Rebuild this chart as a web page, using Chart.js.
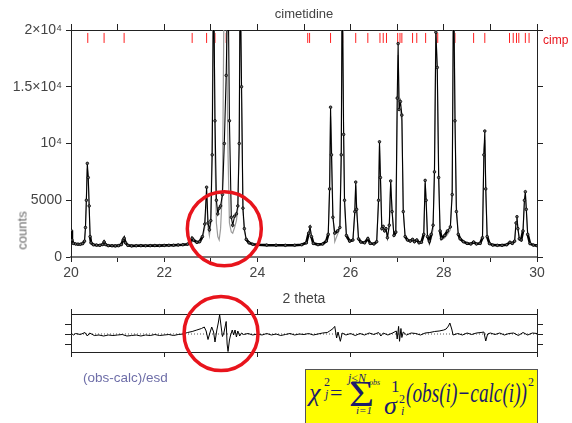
<!DOCTYPE html>
<html>
<head>
<meta charset="utf-8">
<script src="https://cdn.jsdelivr.net/npm/chart.js@4.4.1/dist/chart.umd.min.js"></script>
<style>
  body { margin: 0; background: #fff; }
  #page { position: relative; width: 572px; height: 423px; overflow: hidden; font-family: "Liberation Sans", Arial, sans-serif; }
  canvas { position: absolute; left: 0; }
  .lbl { position: absolute; white-space: nowrap; line-height: 1; font-weight: normal; }
  #formula { position: absolute; left: 305px; top: 369px; width: 231px; height: 58px; background: #ffff00; border: 1px solid #555; }
  #formula svg { position: absolute; left: 0; top: 0; }
  #formula text { fill: #1c1c6b; font-family: "Liberation Serif", "Times New Roman", serif; }
</style>
</head>
<body>
<div id="page">
  <canvas id="mainChart" width="572" height="310" style="top:0"></canvas>
  <canvas id="diffChart" width="572" height="90" style="top:290px"></canvas>
  <div class="lbl" style="left:2px; top:224px; width:40px; text-align:center; font-size:13px; color:#666; transform:rotate(-90deg);">counts</div>
  <div class="lbl" style="left:543px; top:34px; font-size:12px; color:#e8141c;">cimp</div>
  <div class="lbl" style="left:83px; top:371px; font-size:13.5px; color:#6e6ea8;">(obs-calc)/esd</div>
  <div id="formula"></div>
</div>
<script>
// observed / calculated profile (2theta, counts)
const twoTheta = [
  20.00, 20.02, 20.05, 20.10, 20.15, 20.20, 20.25, 20.29, 20.31, 20.33, 20.35, 20.37, 20.39, 20.41, 20.43, 20.48,
  20.55, 20.62, 20.68, 20.71, 20.74, 20.80, 20.88, 20.95, 21.02, 21.08, 21.12, 21.14, 21.17, 21.22, 21.30, 21.40,
  21.50, 21.60, 21.70, 21.80, 21.90, 22.00, 22.10, 22.20, 22.30, 22.40, 22.50, 22.57, 22.60, 22.63, 22.70, 22.76,
  22.82, 22.87, 22.91, 22.94, 22.97, 23.00, 23.03, 23.06, 23.09, 23.12, 23.15, 23.18, 23.21, 23.25, 23.29, 23.33,
  23.37, 23.40, 23.44, 23.47, 23.51, 23.55, 23.58, 23.61, 23.63, 23.66, 23.69, 23.72, 23.76, 23.82, 23.90, 24.00,
  24.20, 24.40, 24.60, 24.80, 24.95, 25.05, 25.10, 25.13, 25.16, 25.20, 25.30, 25.40, 25.48, 25.52, 25.55, 25.57,
  25.59, 25.62, 25.66, 25.72, 25.77, 25.80, 25.82, 25.85, 25.87, 25.91, 25.98, 26.05, 26.09, 26.11, 26.13, 26.17,
  26.22, 26.30, 26.37, 26.42, 26.50, 26.56, 26.60, 26.62, 26.64, 26.67, 26.70, 26.73, 26.76, 26.79, 26.83, 26.86,
  26.89, 26.93, 26.97, 27.00, 27.02, 27.04, 27.07, 27.10, 27.13, 27.17, 27.22, 27.28, 27.33, 27.37, 27.42, 27.47,
  27.52, 27.57, 27.60, 27.62, 27.65, 27.69, 27.73, 27.77, 27.80, 27.83, 27.86, 27.89, 27.92, 27.95, 28.02, 28.08,
  28.14, 28.18, 28.21, 28.24, 28.27, 28.31, 28.35, 28.42, 28.50, 28.58, 28.64, 28.70, 28.78, 28.83, 28.86, 28.88,
  28.90, 28.93, 28.98, 29.05, 29.15, 29.25, 29.35, 29.42, 29.47, 29.52, 29.55, 29.57, 29.59, 29.62, 29.66, 29.70,
  29.73, 29.75, 29.77, 29.80, 29.85, 29.92, 30.00
];
const obsCounts = [
  2350, 1500, 1200, 1150, 1130, 1120, 1180, 1400, 2600, 5000, 8250, 7000, 4500, 1800, 1250, 1080,
  1050, 1030, 1100, 1330, 1100, 1000, 990, 980, 1000, 1100, 1500, 1650, 1250, 1030, 980, 990,
  1000, 990, 1000, 1010, 1000, 1020, 1030, 1040, 1060, 1080, 1130, 1350, 1650, 1500, 1300, 1350,
  1800, 2900, 6150, 3000, 2400, 3200, 9000, 25000, 12000, 5000, 3800, 4300, 4500, 5500, 10000, 16000,
  25000, 12000, 3500, 2800, 3600, 3800, 4500, 10000, 25000, 15000, 4300, 2500, 1550, 1250, 1120, 1080,
  1050, 1040, 1030, 1040, 1080, 1250, 2100, 2650, 1800, 1200, 1090, 1150, 1400, 2000, 6000, 13200,
  9000, 3500, 2100, 2300, 2600, 9000, 25000, 10800, 5000, 1900, 1400, 1500, 4000, 6600, 4200, 1600,
  1320, 1250, 1620, 1200, 1150, 1350, 5000, 10150, 7000, 2500, 2700, 2300, 2500, 1700, 2800, 6700,
  4000, 1900, 2200, 14000, 18800, 13000, 13700, 12500, 4000, 1800, 1500, 1400, 1550, 1350, 1500, 1250,
  1300, 2000, 6750, 5000, 1800, 1400, 2000, 2800, 7500, 19800, 16700, 7000, 2300, 1650, 1900, 2300,
  2650, 5500, 25000, 12000, 4000, 2000, 1600, 1350, 1200, 1150, 1320, 1150, 1200, 1700, 9000, 11100,
  6000, 1800, 1180, 1050, 1030, 1030, 1080, 1300, 1200, 1400, 3000, 3550, 2500, 1600, 1500, 2300,
  5000, 5750, 4200, 2000, 1180, 1050, 1000
];
const calcCounts = [
  2200, 1450, 1180, 1120, 1110, 1100, 1160, 1350, 2400, 5200, 7800, 7200, 4300, 1900, 1250, 1080,
  1040, 1030, 1100, 1300, 1100, 1000, 990, 985, 990, 1080, 1450, 1600, 1250, 1030, 990, 985,
  990, 990, 995, 1000, 1000, 1010, 1020, 1030, 1050, 1070, 1110, 1300, 1550, 1450, 1200, 1250,
  1600, 2600, 5500, 2600, 1900, 3000, 11000, 28000, 9000, 3000, 1800, 1500, 2500, 6000, 26000, 22000,
  9000, 3000, 2200, 2100, 2600, 3200, 4300, 11000, 26000, 14000, 4000, 2300, 1500, 1220, 1100, 1070,
  1050, 1030, 1030, 1030, 1070, 1200, 2000, 2500, 1900, 1200, 1090, 1120, 1350, 1900, 6500, 12400,
  10000, 3800, 1350, 2000, 2500, 10000, 26000, 11500, 4500, 1700, 1350, 1450, 3800, 6300, 4400, 1600,
  1300, 1250, 1580, 1200, 1150, 1300, 5200, 9800, 7500, 2400, 2500, 2200, 2400, 1650, 2700, 6500,
  4200, 1850, 2100, 12000, 17800, 14000, 12800, 12000, 4200, 1750, 1500, 1400, 1520, 1350, 1480, 1250,
  1300, 1900, 6500, 5200, 1900, 1100, 1600, 2500, 8000, 20500, 16000, 7500, 2100, 1500, 1700, 2000,
  2400, 6000, 26000, 13000, 4500, 2000, 1550, 1320, 1200, 1150, 1300, 1150, 1200, 1650, 9500, 10300,
  6500, 1900, 1180, 1050, 1030, 1030, 1070, 1250, 1180, 1380, 3100, 3400, 2600, 1600, 1480, 2200,
  4900, 5500, 4400, 2000, 1180, 1050, 1000
];
// reflection positions (red ticks)
const reflections = [
  20.36, 20.71, 21.14, 22.60, 22.91, 23.09, 23.33, 23.63, 25.08, 25.12, 25.57, 25.83, 26.11, 26.37,
  26.63, 26.70, 26.77, 27.01, 27.06, 27.10, 27.33, 27.42, 27.61, 27.84, 27.87, 28.21, 28.24, 28.64,
  28.88, 29.41, 29.49, 29.56, 29.61, 29.75, 29.83
];
// (obs-calc)/esd trace
const diffTheta = [
  20.00, 20.05, 20.10, 20.20, 20.30, 20.35, 20.40, 20.50, 20.60, 20.70, 20.80, 20.90, 21.00, 21.10, 21.20, 21.30,
  21.40, 21.50, 21.60, 21.70, 21.80, 21.90, 22.00, 22.10, 22.20, 22.30, 22.40, 22.50, 22.60, 22.70, 22.80, 22.86,
  22.90, 22.94, 22.98, 23.02, 23.06, 23.09, 23.13, 23.16, 23.19, 23.22, 23.25, 23.28, 23.33, 23.35, 23.37, 23.40,
  23.42, 23.46, 23.49, 23.52, 23.55, 23.58, 23.62, 23.66, 23.70, 23.80, 23.90, 24.00, 24.10, 24.20, 24.30, 24.40,
  24.50, 24.60, 24.70, 24.80, 24.90, 25.00, 25.10, 25.20, 25.30, 25.40, 25.50, 25.55, 25.62, 25.66, 25.70, 25.73,
  25.78, 25.82, 25.90, 26.00, 26.10, 26.20, 26.30, 26.40, 26.50, 26.60, 26.65, 26.70, 26.80, 26.90, 26.98, 27.00,
  27.03, 27.05, 27.08, 27.10, 27.13, 27.20, 27.30, 27.40, 27.50, 27.60, 27.70, 27.80, 27.90, 28.00, 28.05, 28.10,
  28.13, 28.17, 28.20, 28.30, 28.40, 28.50, 28.60, 28.70, 28.80, 28.86, 28.90, 28.94, 29.00, 29.10, 29.20, 29.30,
  29.40, 29.50, 29.60, 29.70, 29.80, 29.90, 30.00
];
const diffValues = [
  0.10, -0.10, 0.05, -0.05, 0.15, -0.20, 0.10, -0.15, -0.10, -0.20, -0.10, -0.15, -0.10, -0.05, -0.20, -0.15,
  -0.10, -0.20, -0.10, -0.15, -0.05, -0.15, -0.10, -0.05, -0.15, -0.05, 0.00, 0.15, 0.25, 0.40, 0.55, 0.70,
  0.30, -0.55, 0.10, 0.70, 0.20, -0.80, 0.40, 1.10, 1.93, 0.80, -0.25, 0.10, 1.25, -1.00, -1.75, -0.60,
  -0.20, 0.40, -0.10, 0.40, -0.30, 0.30, -0.20, 0.10, -0.05, 0.05, -0.10, 0.00, -0.10, 0.05, -0.10, 0.00,
  -0.15, -0.05, 0.05, -0.10, 0.00, -0.05, 0.05, -0.10, 0.00, 0.10, 0.15, 0.30, 0.53, 0.76, -0.40, 0.20,
  -0.73, 0.10, -0.10, 0.05, -0.15, 0.05, -0.10, 0.10, -0.05, 0.15, -0.20, 0.10, -0.10, 0.10, 0.30, -0.50,
  0.76, -0.73, 0.55, -0.35, 0.20, -0.10, 0.10, 0.05, -0.10, 0.10, 0.15, 0.25, 0.30, 0.40, 0.50, 0.80,
  1.10, 0.50, -0.10, 0.05, -0.10, 0.10, -0.05, 0.10, 0.15, 0.20, -0.70, 0.00, 0.10, -0.05, 0.10, -0.10,
  0.05, 0.10, -0.15, 0.15, -0.10, 0.10, 0.05
];
const countTicks = [0, 5000, 10000, 15000, 20000];
const countTickLabels = ['0', '5000', '10⁴', '1.5×10⁴', '2×10⁴'];

const inkColor = '#222';
const textColor = '#444';

// red ring drawn around a data location
const redCircle = {
    id: 'redCircle',
    afterDraw(chart, args, opts) {
        const ctx = chart.ctx;
        const cx = chart.scales.x.getPixelForValue(opts.x);
        const cy = chart.scales.y.getPixelForValue(opts.y);
        ctx.save();
        ctx.beginPath();
        ctx.arc(cx, cy, opts.r, 0, Math.PI * 2);
        ctx.lineWidth = 3.5;
        ctx.strokeStyle = '#e8141c';
        ctx.stroke();
        ctx.restore();
    }
};

// dotted zero line in the difference panel
const zeroLine = {
    id: 'zeroLine',
    beforeDatasetsDraw(chart) {
        const ctx = chart.ctx;
        const area = chart.chartArea;
        const y0 = chart.scales.y.getPixelForValue(0);
        ctx.save();
        ctx.setLineDash([1, 2]);
        ctx.strokeStyle = '#555';
        ctx.lineWidth = 1;
        ctx.beginPath();
        ctx.moveTo(area.left, y0);
        ctx.lineTo(area.right, y0);
        ctx.stroke();
        ctx.restore();
    }
};

function frameAxis(extra) {
    return Object.assign({
        type: 'linear',
        grid: { drawOnChartArea: false, tickLength: 5, color: inkColor },
        border: { color: inkColor, width: 1 }
    }, extra);
}

function createMainChart() {
    const ctx = document.getElementById('mainChart').getContext('2d');
    const obsPoints = twoTheta.map((t, i) => ({ x: t, y: obsCounts[i] }));
    const calcPoints = twoTheta.map((t, i) => ({ x: t, y: calcCounts[i] }));
    const tickPoints = reflections.map(t => ({ x: t, y: 19300 }));

    new Chart(ctx, {
        type: 'line',
        data: {
            datasets: [{
                label: 'obs',
                data: obsPoints,
                borderColor: '#000',
                borderWidth: 1.1,
                // the dense background points read as a thick band
                segment: {
                    borderWidth: s => (s.p0.parsed.y < 2400 && s.p1.parsed.y < 2400 ? 2.6 : 1.1)
                },
                pointRadius: 1.3,
                pointBorderWidth: 0.8,
                pointBorderColor: '#000',
                pointBackgroundColor: '#666',
                tension: 0
            }, {
                label: 'calc',
                data: calcPoints,
                borderColor: '#9a9a9a',
                borderWidth: 1.2,
                pointRadius: 0,
                tension: 0
            }, {
                label: 'cimp',
                data: tickPoints,
                showLine: false,
                pointStyle: 'line',
                rotation: 90,
                pointRadius: 5,
                borderColor: '#ff2020',
                pointBorderColor: '#ff2020',
                pointBorderWidth: 1
            }]
        },
        options: {
            responsive: false,
            animation: false,
            devicePixelRatio: 1,
            layout: { padding: 0 },
            plugins: {
                legend: { display: false },
                tooltip: { enabled: false },
                redCircle: { x: 23.29, y: 2490, r: 37 }
            },
            scales: {
                x: frameAxis({
                    position: 'bottom', min: 20, max: 30,
                    afterFit: s => { s.height = 53; },
                    border: { color: '#777', width: 2 },
                    ticks: {
                        stepSize: 1, autoSkip: false, maxRotation: 0, padding: 3,
                        color: textColor, font: { size: 14 },
                        callback: v => (v % 2 === 0 ? String(v) : '')
                    },
                    title: { display: true, text: '2 theta', color: textColor, font: { size: 14 }, padding: { top: 0, bottom: 2 } }
                }),
                x2: frameAxis({
                    position: 'top', min: 20, max: 30,
                    afterFit: s => { s.height = 30; },
                    ticks: { display: false, stepSize: 1 },
                    grid: { drawOnChartArea: false, tickLength: 6, color: inkColor },
                    title: { display: true, text: 'cimetidine', color: textColor, font: { size: 13 }, padding: { top: 7, bottom: 0 } }
                }),
                y: frameAxis({
                    position: 'left', min: 0, max: 20000,
                    afterFit: s => { s.width = 71; },
                    ticks: {
                        stepSize: 5000, padding: 4, color: textColor,
                        font: { size: 14, family: '"Liberation Sans", "DejaVu Sans", sans-serif' },
                        callback: v => countTickLabels[countTicks.indexOf(v)]
                    }
                }),
                y2: frameAxis({
                    position: 'right', min: 0, max: 20000,
                    afterFit: s => { s.width = 35; },
                    ticks: { display: false, stepSize: 5000 },
                    grid: { drawOnChartArea: false, tickLength: 6, color: inkColor }
                })
            }
        },
        plugins: [redCircle]
    });
}

function createDiffChart() {
    const ctx = document.getElementById('diffChart').getContext('2d');
    const diffPoints = diffTheta.map((t, i) => ({ x: t, y: diffValues[i] }));
    const threeTicks = s => { s.ticks = [{ value: -1 }, { value: 0 }, { value: 1 }]; };

    new Chart(ctx, {
        type: 'line',
        data: {
            datasets: [{
                label: '(obs-calc)/esd',
                data: diffPoints,
                borderColor: '#000',
                borderWidth: 1,
                pointRadius: 0,
                tension: 0
            }]
        },
        options: {
            responsive: false,
            animation: false,
            devicePixelRatio: 1,
            layout: { padding: 0 },
            plugins: {
                legend: { display: false },
                tooltip: { enabled: false },
                redCircle: { x: 23.22, y: 0.05, r: 37 }
            },
            scales: {
                x: frameAxis({
                    position: 'bottom', min: 20, max: 30,
                    afterFit: s => { s.height = 28; },
                    ticks: { display: false, stepSize: 2 }
                }),
                x2: frameAxis({
                    position: 'top', min: 20, max: 30,
                    afterFit: s => { s.height = 24; },
                    ticks: { display: false, stepSize: 2 }
                }),
                y: frameAxis({
                    position: 'left', min: -1.8, max: 2,
                    afterFit: s => { s.width = 71; },
                    afterBuildTicks: threeTicks,
                    ticks: { display: false },
                    grid: { drawOnChartArea: false, tickLength: 6, color: inkColor }
                }),
                y2: frameAxis({
                    position: 'right', min: -1.8, max: 2,
                    afterFit: s => { s.width = 35; },
                    afterBuildTicks: threeTicks,
                    ticks: { display: false },
                    grid: { drawOnChartArea: false, tickLength: 6, color: inkColor }
                })
            }
        },
        plugins: [zeroLine, redCircle]
    });
}

// formula box, each piece placed on its baseline
function buildFormula() {
    const box = document.getElementById('formula');
    const pieces = [
        // [text, x, baseline, size, italic, textLength]
        ['χ', 3, 31, 26, true],
        ['2', 18, 16, 12, false],
        ['j', 19, 28, 12, true],
        ['=', 24, 30, 22, false],
        ['Σ', 43, 36, 36, false, 25],
        ['j≤N', 42, 12, 12, true],
        ['obs', 63, 15, 8, true],
        ['i=1', 50, 44, 11, true],
        ['1', 85, 22, 17, false],
        ['σ', 78, 44, 26, true],
        ['2', 93, 33, 12, false],
        ['i', 95, 45, 12, true],
        ['(obs(i)−calc(i))', 100, 32, 27, true, 121],
        ['2', 222, 16, 12, false]
    ];
    let svg = '<svg width="231" height="58" xmlns="http://www.w3.org/2000/svg">';
    pieces.forEach(([text, x, base, size, italic, len]) => {
        svg += '<text x="' + x + '" y="' + base + '" font-size="' + size + '"' +
            (italic ? ' font-style="italic"' : '') +
            (len ? ' textLength="' + len + '" lengthAdjust="spacingAndGlyphs"' : '') +
            '>' + text + '</text>';
    });
    svg += '</svg>';
    box.innerHTML = svg;
}

document.addEventListener('DOMContentLoaded', () => {
    createMainChart();
    createDiffChart();
    buildFormula();
});
</script>
</body>
</html>
